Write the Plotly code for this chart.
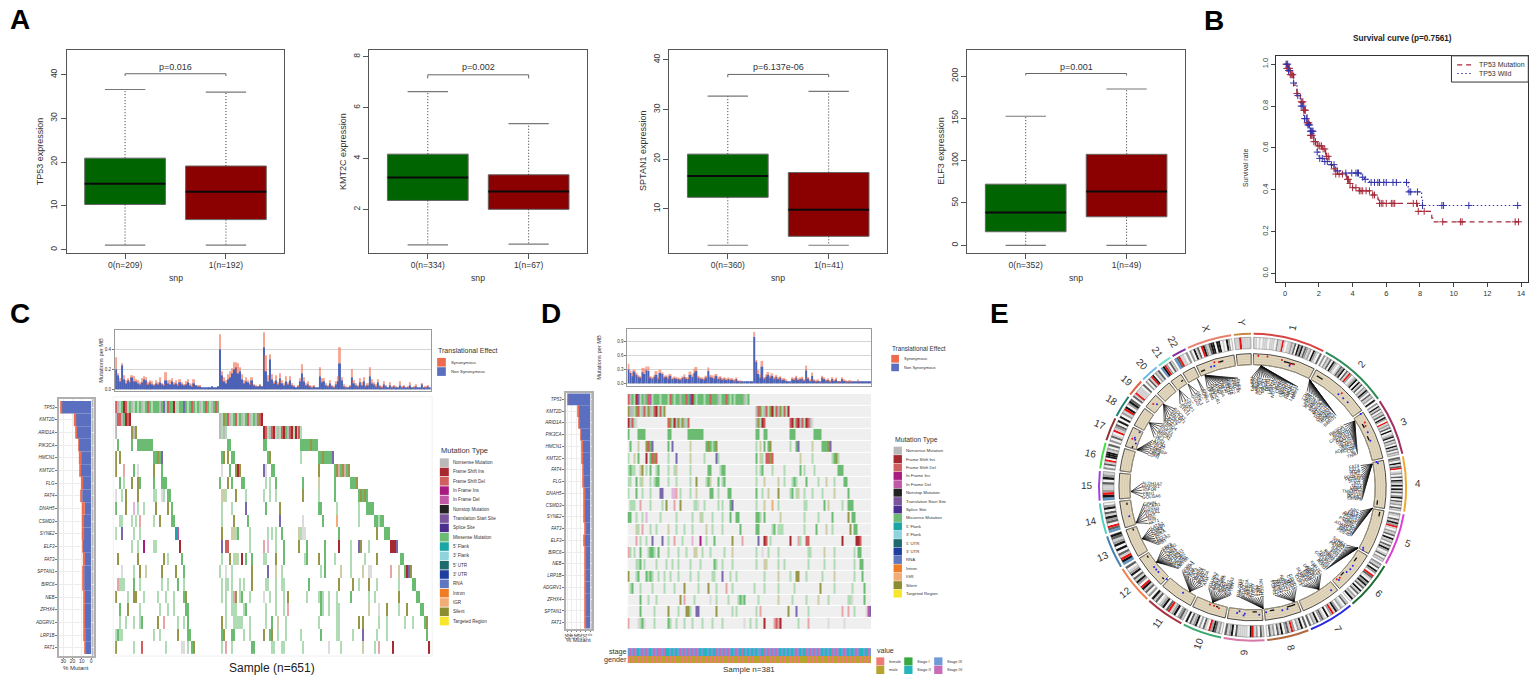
import math
import plotly.graph_objects as go

W, H = 1535, 681
FONT = "Liberation Sans"

# ---------- panel A
BOX_GENES = ["TP53", "KMT2C", "SPTAN1", "ELF3"]
BOX_LABELS = [["0(n=209)", "1(n=192)"], ["0(n=334)", "1(n=67)"], ["0(n=360)", "1(n=41)"], ["0(n=352)", "1(n=49)"]]
BOX_PVALS = ["p=0.016", "p=0.002", "p=6.137e-06", "p=0.001"]
BOX_LOW = [[1.0, 1.0], [0.6, 0.63], [2.65, 2.65], [0, 0]]
BOX_Q1 = [[10.3, 6.85], [2.35, 2.0], [12.3, 4.45], [16, 33.7]]
BOX_MED = [[15.05, 13.2], [3.25, 2.7], [16.6, 9.8], [38.8, 63.5]]
BOX_Q3 = [[20.9, 19.1], [4.17, 3.36], [21.0, 17.3], [72.2, 107.5]]
BOX_HIGH = [[36.6, 36.0], [6.63, 5.37], [32.7, 33.65], [152.5, 184.7]]
BOX_BRACKET = [[39.7, 40.2], [7.15, 7.29], [36.5, 37.05], [200.8, 203]]
BOX_TICKS = [[0, 10, 20, 30, 40], [2, 4, 6, 8], [10, 20, 30, 40], [0, 50, 100, 150, 200]]
BOX_RANGE = [[-0.69, 45.6], [0.3, 8.26], [1.18, 41.94], [-8.6, 230.6]]
BOX_LEFT = [64.7, 368, 668.6, 967.1]

# ---------- panel B
MUT_T = [0, 0.1, 0.3, 0.5, 0.7, 0.9, 1.1, 1.3, 1.5, 1.7, 1.9, 2.2, 2.4, 2.6, 2.8, 3.0, 3.65, 3.8, 4.0, 4.4, 5.2, 5.5,
         5.55, 7.85, 8.7, 8.8, 13.9]
MUT_S = [1, 0.98, 0.95, 0.90, 0.86, 0.82, 0.78, 0.72, 0.66, 0.63, 0.61, 0.595, 0.56, 0.52, 0.50, 0.475, 0.45, 0.43,
         0.41, 0.395, 0.375, 0.355, 0.335, 0.297, 0.265, 0.247, 0.247]
WILD_T = [0.05, 0.2, 0.5, 0.7, 0.9, 1.1, 1.3, 1.5, 1.7, 1.9, 2.0, 2.3, 2.7, 3.0, 3.3, 4.5, 4.7, 5.0, 7.3, 8.1, 8.15,
          13.85]
WILD_S = [1, 0.97, 0.91, 0.85, 0.80, 0.74, 0.71, 0.68, 0.62, 0.58, 0.55, 0.535, 0.52, 0.49, 0.48, 0.46, 0.45, 0.435,
          0.39, 0.35, 0.325, 0.325]
MUT_CENSOR = [0.05, 0.1, 0.15, 0.2, 0.25, 0.3, 0.35, 0.4, 0.45, 0.7, 0.95, 1.0, 1.05, 1.1, 1.15, 1.2, 1.3, 1.35, 1.4,
              1.5, 1.55, 1.6, 1.7, 1.8, 1.95, 2.05, 2.15, 2.25, 2.35, 2.45, 2.55, 2.9, 3.0, 3.2, 3.4, 3.7, 3.75, 3.85,
              4.0, 4.2, 4.4, 4.5, 4.6, 4.8, 5.0, 5.2, 5.3, 5.6, 5.7, 5.8, 6.0, 6.3, 6.4, 6.5, 7.6, 7.8, 7.9, 8.25,
              9.35, 10.4, 10.5, 13.65, 13.85]
WILD_CENSOR = [0.1, 0.15, 0.2, 0.5, 0.75, 0.95, 1.05, 1.15, 1.25, 1.35, 1.4, 1.45, 1.5, 1.55, 1.6, 1.65, 1.9, 2.05,
               2.2, 2.35, 2.5, 2.75, 2.9, 3.1, 3.6, 3.95, 4.2, 4.3, 4.35, 4.6, 4.75, 5.1, 5.3, 5.5, 5.6, 5.85, 6.0,
               6.4, 6.6, 7.2, 7.35, 7.45, 7.85, 8.15, 9.3, 9.4, 10.9, 13.8]

# ---------- panels C and D
GENES_C = ["TP53", "KMT2D", "ARID1A", "PIK3CA", "HMCN1", "KMT2C", "FLG", "FAT4", "DNAH5", "CSMD3", "SYNE2", "ELF3",
           "FAT3", "SPTAN1", "BIRC6", "NEB", "ZFHX4", "ADGRV1", "LRP1B", "FAT1"]
TOTAL_C = [32.5, 18.6, 16.4, 13.6, 13.2, 12.1, 11, 11, 10, 10, 10, 9.6, 8.9, 8.6, 8.6, 8.2, 8.2, 7.9, 7.5, 7.1]
NONSYN_C = [32, 17.1, 15.4, 13.2, 10.7, 11.1, 9.3, 9.6, 6.8, 7.9, 7.9, 8.9, 6.8, 7.5, 7.5, 6.8, 6.8, 6.8, 6.4, 6.4]
GENES_D = ["TP53", "KMT2D", "ARID1A", "PIK3CA", "HMCN1", "KMT2C", "FAT4", "FLG", "DNAH5", "CSMD3", "SYNE2", "FAT3",
           "ELF3", "BIRC6", "NEB", "LRP1B", "ADGRV1", "ZFHX4", "SPTAN1", "FAT1"]
TOTAL_D = [50, 27.5, 25, 21, 19.6, 18, 16.7, 16, 15, 15, 14, 13, 13, 12.3, 12.3, 11.6, 11.6, 11.6, 11.6, 11]
NONSYN_D = [49, 26, 24, 20.5, 16, 16, 15.2, 13.8, 11, 11.6, 11.6, 9.4, 11.6, 10.2, 10.2, 10.2, 9.4, 9.4, 10.2, 9.4]

# mutation counts per MB, hundredths, two pixel wide bins of samples
TMB_C_NON = [20, 14, 8, 24, 10, 6, 9, 7, 12, 8,
             8, 6, 5, 7, 10, 9, 5, 7, 5, 4,
             6, 5, 7, 5, 4, 9, 6, 5, 8, 5,
             6, 4, 7, 5, 4, 5, 7, 4, 3, 6,
             4, 3, 3, 2, 2, 2, 2, 2, 3, 2,
             2, 3, 40, 14, 8, 6, 10, 12, 16, 20,
             22, 16, 18, 10, 6, 8, 7, 5, 9, 4,
             3, 3, 4, 3, 42, 18, 8, 30, 10, 6,
             9, 5, 11, 6, 4, 8, 5, 9, 4, 3,
             2, 3, 8, 16, 8, 4, 5, 3, 2, 3,
             2, 2, 13, 7, 8, 4, 3, 6, 3, 2,
             5, 8, 26, 9, 3, 2, 2, 3, 12, 6,
             4, 3, 7, 4, 8, 3, 4, 13, 6, 5,
             3, 7, 3, 2, 5, 3, 2, 4, 2, 3,
             2, 2, 4, 2, 3, 2, 2, 4, 2, 2,
             3, 2, 2, 5, 2, 2, 3, 2]
TMB_C_SYN = [12, 2, 3, 2, 4, 3, 2, 2, 2, 5,
             2, 3, 2, 4, 3, 3, 2, 2, 3, 1,
             3, 2, 5, 1, 1, 8, 3, 4, 3, 2,
             3, 1, 3, 2, 1, 3, 3, 2, 2, 4,
             0, 1, 1, 0, 0, 0, 0, 0, 0, 0,
             0, 0, 15, 4, 4, 3, 5, 6, 5, 7,
             5, 10, 4, 5, 3, 4, 2, 2, 3, 1,
             1, 0, 1, 0, 15, 16, 6, 5, 5, 2,
             5, 2, 5, 3, 2, 5, 2, 4, 2, 1,
             0, 1, 3, 9, 4, 2, 3, 1, 1, 1,
             0, 0, 9, 4, 3, 2, 1, 3, 1, 1,
             3, 5, 16, 3, 2, 1, 0, 1, 8, 3,
             2, 1, 4, 3, 4, 1, 2, 9, 4, 2,
             2, 3, 1, 1, 3, 1, 0, 3, 1, 1,
             1, 0, 4, 1, 1, 0, 1, 3, 0, 1,
             2, 0, 0, 1, 0, 1, 1, 0]
TMB_D_NON = [30, 22, 15, 25, 18, 14, 12, 24, 20, 28,
             26, 12, 10, 14, 18, 10, 22, 20, 12, 14,
             10, 16, 9, 11, 10, 9, 8, 11, 14, 10,
             9, 18, 14, 22, 26, 12, 10, 9, 8, 12,
             26, 14, 12, 10, 16, 9, 12, 8, 10, 7,
             9, 7, 8, 6, 9, 5, 4, 3, 3, 3,
             3, 3, 3, 100, 46, 20, 12, 36, 10, 14,
             18, 12, 16, 10, 14, 9, 12, 7, 8, 5,
             3, 3, 9, 8, 12, 7, 9, 10, 6, 28,
             10, 5, 16, 6, 4, 5, 3, 12, 9, 6,
             7, 4, 9, 5, 8, 3, 3, 9, 5, 4,
             3, 4, 3, 2, 2, 3, 2, 2, 3, 2,
             2, 2]
TMB_D_SYN = [12, 5, 6, 4, 4, 3, 2, 9, 12, 8,
             10, 3, 3, 3, 8, 2, 7, 3, 2, 2,
             3, 4, 3, 2, 2, 2, 2, 3, 5, 3,
             4, 7, 5, 9, 9, 4, 3, 3, 2, 4,
             8, 4, 5, 3, 4, 5, 3, 3, 2, 3,
             3, 3, 2, 2, 3, 1, 1, 0, 0, 0,
             0, 0, 0, 10, 4, 8, 6, 12, 3, 5,
             6, 4, 5, 4, 4, 4, 3, 2, 3, 2,
             0, 0, 4, 3, 4, 2, 3, 4, 2, 10,
             3, 2, 7, 2, 1, 2, 1, 4, 3, 2,
             3, 1, 4, 2, 4, 1, 1, 3, 2, 1,
             1, 3, 1, 0, 0, 5, 0, 0, 0, 0,
             0, 0]

# start column : one code per column
ONCO_C = [
    "0:DNgGRDgGNgGgGNgGDGgGGGNGVgDGGRggGGVGgGDGgGNgGDGgNGDG",
    "0:NDDNGRDR 52:NgOGDNgGDgGNgGDNgGNODR",
    "0:N 8:ONO 52:NgNg 74:RDgNDRgNgDRGNDRgRNDg",
    "1:G 8:G 11:GGGGGGGG 56:GG 74:GG 93:GGGGGOGGG",
    "0:O 2:O 19:GGOGV 53:GO 56:O 58:GG 76:GO 93:g 102:GGOGGGGV",
    "0:O 4:d 9:G 11:n 19:O 23:G 53:n 57:G 60:ORO 74:V 75:n 78:GG 102:O 110:GOdGOdGO",
    "2:G 4:g 8:O 11:OG 19:G 23:GGG 52:G 56:O 58:G 63:GG 75:g 77:g 80:G 94:G 102:o 110:G 118:GGGO",
    "0:n 3:g 5:O 11:O 19:gg 23:n 24:g 26:GG 53:oog 60:O 65:g 74:g 77:g 80:g 94:O 102:g 110:G 122:GOGOG",
    "0:G 5:O 9:p 11:g 14:g 20:O 26:O 28:G 53:g 58:g 65:V 75:G 82:O 102:GG 111:g 122:g 126:GGGG",
    "2:gg 8:g 10:g 12:d 19:g 22:O 28:GG 53:g 59:O 66:G 82:V 94:n 104:G 111:i 122:g 130:GGgGG",
    "0:g 3:V 9:g 12:g 30:TP 53:O 58:oog 61:G 67:g 76:g 78:g 80:g 83:G 92:og 94:nn 112:G 131:O 135:GGG",
    "8:g 11:g 14:I 19:gg 32:R 53:V 55:DD 67:g 74:d 76:p 80:g 84:G 92:O 96:G 105:G 112:R 118:g 122:V 123:O 127:g 138:RRRV",
    "1:O 11:O 24:O 26:g 33:G 53:g 57:O 59:gog 63:R 65:G 68:G 74:gg 80:O 84:G 95:gG 102:O 105:G 110:g 118:g 125:g 131:O 143:GG",
    "3:n 9:g 12:O 15:o 23:O 30:O 34:G 52:g 55:n 58:g 68:O 76:V 80:o 83:g 103:g 105:G 113:o 118:g 124:o 127:nn 138:d 142:o 145:GRVO",
    "1:dg 3:gg 9:G 12:g 23:g 26:g 31:G 34:g 53:g 55:gg 58:g 62:g 64:g 68:O 75:gg 80:g 83:gg 97:G 112:O 119:O 122:g 127:O 131:g 142:g 149:GG",
    "0:O 6:g 9:OO 14:g 21:g 25:g 29:g 34:GO 53:g 55:g 58:g 59:dO 62:gG 67:g 74:n 77:g 80:g 84:g 86:O 96:g 102:gGg 107:g 111:g 118:G 127:g 130:g 142:O 151:GG",
    "2:G 6:O 12:g 22:g 26:g 29:g 35:GG 55:g 58:ggg 64:gG 75:g 80:g 84:g 86:d 103:Gg 107:g 111:gg 127:o 132:n 136:O 142:g 146:O 153:GG",
    "2:g 5:g 9:g 12:gG 21:O 24:d 31:g 34:g 36:G 53:O 55:g 59:ggggg 67:g 75:g 78:G 81:o 85:g 102:g 111:gg 122:O 124:O 132:g 136:g 145:g 149:g 155:GO",
    "0:gGgg 19:g 22:g 31:O 36:GG 53:GO 58:GG 64:g 67:g 74:O 77:GO 81:g 85:g 93:g 103:G 111:gg 119:g 124:V 131:g 136:g 156:G",
    "0:O 9:g 13:D 25:g 33:nn 36:g 38:GO 53:g 55:d 58:g 68:GG 78:gg 83:gg 94:g 107:n 113:g 124:o 130:g 132:d 139:R 157:R",
]
ONCO_D = [
    "0:DNGgRVgGNGDPgGGGgGGGgDGgGGNGGDGVRGgGGGgGGDGGGNgGGDGgGgGGGGNgG",
    "0:ONNgODgNDgONgDRgDgO 64:NDOgNDgORgDNOgDgR",
    "0:RNDgn 20:DOgRNOgONgD 64:NOgRD 81:DRgDRNDgRDNn",
    "0:G 5:GGGG 20:GG 30:GGGGGGGG 64:GG 68:GG 81:GGG 93:GGGG",
    "1:G 5:o 9:ODGV 20:G 22:V 31:o 39:GOGgGO 64:g 66:o 68:G 70:GO 81:g 84:GV 92:o 97:GGGOV",
    "0:g 3:o 5:G 9:R 11:G 12:DOD 20:g 24:V 31:o 38:g 44:V 45:g 64:G 66:o 67:g 69:DDOD 86:o 92:g 102:gGOg",
    "0:gGgg 6:oO 9:g 11:G 14:gG 20:g 23:g 24:o 31:g 40:GG 46:g 47:GG 64:g 66:g 67:G 72:g 78:g 86:G 88:g 93:g 105:GGG",
    "0:gg 4:G 6:g 7:o 11:g 13:g 14:GG 20:g 24:g 31:g 34:O 39:gGo 45:G 47:g 48:G 64:g 68:o 75:o 78:g 82:gGg 89:G 95:g 99:o 103:g 108:GG",
    "0:g 4:G 7:g 11:g 16:VV 22:ppd 26:g 31:g 34:o 41:GG 45:g 50:GG 64:G 67:g 70:o 75:O 81:gG 84:go 88:g 92:g 97:g 103:o 110:G",
    "1:ggg 6:d 11:g 17:g 19:O 23:d 26:O 33:gg 35:n 38:g 45:g 47:g 51:GV 64:g 68:o 72:i 75:g 88:gg 98:G 100:o 107:g 110:GGG",
    "0:GG 4:g 7:g 9:p 16:g 24:g 32:g 36:o 37:g 42:g 47:g 51:G 54:GG 64:GGg 68:G 76:o 88:g 95:g 102:G 110:O 112:GG",
    "4:o 5:g 7:d 11:g 14:g 20:o 24:g 28:g 32:g 39:o 42:g 47:g 56:G 64:GG 72:gG 75:ggg 88:g 94:G 99:o 102:g 111:O 113:GG",
    "4:d 6:g 9:g 12:V 17:V 20:g 23:d 27:g 32:p 36:I 39:g 43:G 52:O 57:d 65:V 68:RD 71:g 81:R 85:d 86:g 89:DD 107:R 114:RRD",
    "0:dg 3:g 6:G 10:gGGg 15:G 20:g 25:g 29:g 33:oo 37:g 41:g 48:g 52:o 64:g 67:n 70:g 75:g 90:gg 98:o 103:g 113:g 115:GG",
    "4:ggG 8:g 14:g 19:g 22:g 25:g 31:g 36:g 43:Gg 47:g 52:g 64:g 68:oo 75:g 78:g 90:g 98:g 103:g 113:g 116:GG",
    "0:O 4:gG 9:GgGg 15:g 18:g 21:g 25:g 31:g 35:g 42:gg 47:V 51:g 54:g 68:g 75:o 81:g 84:OO 89:g 97:g 103:o 113:g 117:G",
    "1:gG 6:g 12:g 18:g 23:g 28:O 35:g 40:O 44:g 49:d 52:g 63:g 68:g 75:g 83:g 96:O 103:g 112:g 118:G",
    "6:G 10:g 14:g 26:O 28:d 33:g 41:n 44:g 50:g 55:gGgG 65:g 75:o 82:g 89:g 95:o 100:g 110:ggn 118:G",
    "6:G 13:g 20:O 25:g 29:OO 31:g 34:VV 44:O 52:g 54:g 64:g 66:d 80:O 84:V 90:g 107:d 110:d 113:g 119:nPVD",
    "0:d 5:ngG 8:n 13:g 20:Gg 24:g 28:g 32:g 37:g 42:g 47:g 58:n 61:g 64:g 68:R 73:dDd 76:R 85:g 90:d 100:n 108:n",
]
STAGE_D = ("cdcdcbcdcdcbcdcddcdbbcbcbcdcdcdcdcdcbcbbcbcbdcdcdcdcbcdcbdbcbcbcbccbdcdcdcdcb"
           "cbcbcbcdcbcbdcdcdcdcbcbcbdcdcbcdcbcbcdcbbcbdcb")
GENDER_D = ("fmfmmfmfmfmmfmfmfmmfmfmfmmmfmfmfmmfmfmmfmfmfmfmfmmfmfmmfmfmmfmfmmmfmfmmfmfmmf"
            "mfmmfmfmfmmmmfmfmfmmfmmfmfmmfmfmfmfmfmmfmfmfmf")

CODE_COLORS = {".": "#ffffff", "N": "#b9b9b9", "n": "#dcdcdc", "R": "#a8282f", "D": "#d0605f", "d": "#e6a6a8",
               "I": "#a81b80", "P": "#c058a5", "p": "#e3b5d8", "V": "#7a68ae", "G": "#6bbb73", "g": "#b0dcb5",
               "O": "#97974a", "o": "#cdcda6", "T": "#1ba6a6", "i": "#f2ad76"}
CODES = list(CODE_COLORS)

MUT_TYPES = ["Nonsense Mutation", "Frame Shift Ins", "Frame Shift Del", "In Frame Ins", "In Frame Del",
             "Nonstop Mutation", "Translation Start Site", "Splice Site", "Missense Mutation", "5' Flank", "3' Flank",
             "5' UTR", "3' UTR", "RNA", "Intron", "IGR", "Silent", "Targeted Region"]
MUT_COLORS = ["#b9b9b9", "#a8282f", "#d0605f", "#a81b80", "#c058a5", "#222222", "#7b559c", "#4a2f8f", "#6bbb75",
              "#1ba6a6", "#8fd3dc", "#1f6a6c", "#1f3f9f", "#5f76c0", "#f07c25", "#f2ad76", "#8c8c30", "#f7e62b"]
EFFECTS = ["Synonymous", "Non Synonymous"]
SYN_COLOR, NONSYN_COLOR = "#ee6c4d", "#5a6fbf"

# ---------- panel E
CHROMS = ["1", "2", "3", "4", "5", "6", "7", "8", "9", "10", "11", "12", "13", "14", "15", "16", "17", "18", "19", "20",
          "21", "22", "X", "Y"]
CHROM_MB = [249, 243, 198, 191, 181, 171, 159, 146, 141, 136, 135, 134, 115, 107, 102, 90, 81, 78, 59, 63, 48, 51, 155,
            59]
CHROM_COLORS = ["#d64541", "#2e8b57", "#a03060", "#f0a830", "#e040d0", "#1e6b2e", "#2a2ae0", "#b06a40", "#d878a8",
                "#3caa70", "#a83040", "#f08050", "#4a80b0", "#50d0c0", "#a040e0", "#40e040", "#903030", "#208070",
                "#e06040", "#70b8e8", "#70e0c8", "#8030a0", "#e88070", "#c88840"]
BANDS = [
    "1101011101110211R1011213042413212042103",
    "20213042101324031R20124041302142031204",
    "2041302130420R121304012403120413021",
    "320413R012030421404130240312031",
    "2103142R10213041203142013021",
    "2130420R31042413041302140",
    "130120241R2040132041203",
    "3041202R132041302130",
    "13021R4011111304213",
    "021342R013020421304",
    "1320421R304210314",
    "20314R02413042103",
    "B4R1304042134",
    "B3R0324130420",
    "B4R21130421",
    "2031R04441203",
    "20310R12304",
    "4021R40243",
    "31R111103",
    "2031R40213",
    "B4R2031",
    "B3R1102",
    "204130R421344044010420",
    "11R1111",
]
BAND_GREYS = {"0": "#f4f4f4", "1": "#cfcfcf", "2": "#9e9e9e", "3": "#606060", "4": "#161616", "R": "#ee1111",
              "B": "#5b9bd5"}

RING_BLUE_T = [16.9, 42.7, 45.5, 48.2, 55.9, 64.5, 68.4, 78.5, 79.2, 118.7, 119.6, 128, 130, 132, 137, 142.7, 164,
               166.4, 173.8, 177, 183.5, 184, 187, 186, 213.4, 223, 228, 229.5, 231, 256.8, 292, 292.8, 290.5, 296,
               311, 341, 342.5]
RING_BLUE_R = [127.5, 127, 127.5, 128, 131, 128, 127, 127, 128, 126.5, 127.5, 127.7, 128, 127, 127, 130, 127, 127,
               126, 128, 127, 129, 127, 125, 126.6, 126, 127, 127, 127, 127, 127, 128, 125, 126, 127, 127.8, 127.5]
RING_RED_T = [2.5, 6.5, 13, 17, 18.5, 43.5, 60, 61.5, 136, 137.5, 195.5, 198, 200, 292, 310, 343, 345]
RING_RED_R = [132, 132, 131, 129, 130, 130, 130, 129, 126, 125, 126, 125, 125, 130, 130, 131, 130]
RING_BLACK_T = [14, 15, 16, 17, 18, 19, None, 30, 31, 32, 33, None, 60, 61, 62, None, 66, 67, 68, None, 96, 97, 98,
                None, 101, 102, 103, None, 124, 125, 126, None, 133, 134, 135, None, 160, 161, 162, 163, 164, None,
                170, 171, 172, None, 178, 179, 180, None, 196, 197, None, 224, 225, None, 236, 237, None, 250, 251,
                None, 262, 263, None, 288, 289, None, 326, 327, None, 336, 337, 338, None, 345, 346, 347]
RING_BLACK_R = [130, 130, 130, 130, 130, 130, None, 129, 129, 129, 129, None, 127, 127, 127, None, 126, 126, 126, None,
                126, 126, 126, None, 130, 130, 130, None, 126, 126, 126, None, 125, 125, 125, None, 125, 125, 125, 125,
                125, None, 125, 125, 125, None, 125, 125, 125, None, 125, 125, None, 128, 128, None, 126, 126, None,
                127, 127, None, 127, 127, None, 127, 127, None, 128, 128, None, 127, 127, 127, None, 130, 130, 130]

# locus angle, first and last label angle, label names
# only ALDH1A2 can be read in the source; the other names are stand-ins for text too small to make out
GENE_BLOCKS = [
    (4, -1, 25, "NBPF1 SPEN ARID1A CSMD2 COL9A2 MACF1 FAAH DPYD LRRC7 USH2A NOTCH2 FLG CRNN HRNR OBSCN RYR2 ASTN1 HMCN1 CR1 LAMC1 NAV1"),
    (28, 29, 50, "TTN NEB LRP1B ALMS1 DYSF XIRP2 SCN1A BIRC6 MYO7B THSD7B DNAH7 COL4A3 TRIM43 ACADL CPS1 BARD1"),
    (57, 55, 73, "PIK3CA FOXP1 ROBO2 CACNA1D EPHA3 DNAH1 PCLO SETD2 BAP1 ADAMTS9 ACAD9 LTF SI TNIK"),
    (79, 78, 97, "FAT4 FAT1 KDR TLR2 PDGFRA PCDH10 SLIT2 KIT TET2 LRBA ANK2 TMEM155 NPY1R DCHS2 CENPE"),
    (100, 102, 117, "APC FAT2 DNAH5 PIK3R1 CDH10 PCDH15 NIPBL TRIO ADAMTS2 RASA1 MAP1B PDE4D"),
    (120, 121, 139, "SYNE1 UTRN LAMA2 PKHD1 BAI3 DST EYS RIMS1 TIAM2 HIVEP1 FILIP1 COL12A1 MYO6 ROS1"),
    (147, 141, 154, "KMT2C PCLO MET ABCB1 DNAH11 RELN EGFR GLI3 SEMA3C NOS3 CUX1"),
    (160, 156, 169, "CSMD1 CSMD3 MYC NRG1 RB1CC1 SNTG1 ZFHX4 TRPS1 PREX2 FGFR1"),
    (175, 174, 188, "NOTCH1 TLN1 ABL1 TSC1 GNAQ PTCH1 JAK2 CDKN2A ROR2 SPTAN1 RALGDS"),
    (199, 191, 204, "PTEN CTNNA3 FGFR2 RET ANK3 PCDH15 ZNF365 SUFU NRG3 TCF7L2 ADARB2"),
    (211, 206, 220, "ATM KMT2A MEN1 CCND1 BIRC3 DCHS1 FAT3 PGR WT1 NUMA1 SORL1"),
    (232, 222, 236, "KMT2D ARID2 KRAS NCOR2 CDK4 PTPN11 BTG1 SOX5 LRP1 ALDH2 POLE TBX3"),
    (245, 238, 249, "RB1 BRCA2 FLT3 KL NBEA GPC5 CDK8 FOXO1 LATS2"),
    (253, 250, 262, "AKT1 NIN MAX FOXA1 NRXN3 DICER1 GPHN"),
    (268, 264, 273, "GOLGA6 FBN1 IGF1R MAP2K1 ALDH1A2"),
    (288, 287, 296, "CDH1 CBFB TSC2 CREBBP CYLD PALB2 AXIN1"),
    (302, 296, 306, "TP53 NF1 BRCA1 ERBB2 RNF43 SPOP"),
    (313, 306, 316, "SMAD4 DCC BCL2 CDH2 MALT1 SETBP1 ROCK1"),
    (323, 318, 325, "STK11 JAK3 KEAP1 CIC"),
    (328, 326, 331, "GNAS ASXL1 SRC"),
    (333, 332, 334, "RUNX1 ERG"),
    (337, 335, 353, "EP300 NF2 SMARCB1 BCR ATRX KDM6A AR BCOR MED12 RBM10 STAG2 DMD USP9X PHF6"),
]


def px_x(x):
    return x / W


def px_y(y):
    return 1 - y / H


layout = dict(
    width=W, height=H, autosize=False, margin=dict(l=0, r=0, t=0, b=0), paper_bgcolor="white", plot_bgcolor="white",
    barmode="overlay", showlegend=False, font=dict(family=FONT, color="#333333"),
)
annotations = []
shapes = []
traces = []
axis_n = 0


def panel(l, t, r, b, xa, ya):
    global axis_n
    axis_n += 1
    n = axis_n
    layout[f"xaxis{n}"] = dict(domain=[px_x(l), px_x(r)], anchor=f"y{n}", **xa)
    layout[f"yaxis{n}"] = dict(domain=[px_y(b), px_y(t)], anchor=f"x{n}", **ya)
    return f"x{n}", f"y{n}"


def text(x, y, s, size, angle=0, anchor="center", color="#333333", bold=False):
    if bold:
        s = f"<b>{s}</b>"
    annotations.append(dict(xref="paper", yref="paper", x=px_x(x), y=px_y(y), text=s, showarrow=False, textangle=angle,
                            xanchor=anchor, yanchor="middle", font=dict(size=size, color=color, family=FONT),
                            borderpad=0))


def swatch(x0, y0, x1, y1, color):
    shapes.append(dict(type="rect", xref="paper", yref="paper", x0=px_x(x0), x1=px_x(x1), y0=px_y(y0), y1=px_y(y1),
                       fillcolor=color, line=dict(width=0)))


def hbox(x0, y0, x1, y1, color):
    shapes.append(dict(type="rect", xref="paper", yref="paper", x0=px_x(x0), x1=px_x(x1), y0=px_y(y0), y1=px_y(y1),
                       fillcolor=color, line=dict(width=0), layer="below"))


for name, letter_x, letter_y in [("A", 18, 19), ("B", 1214.7, 19.3), ("C", 18.5, 313), ("D", 550, 313), ("E", 999, 313)]:
    text(letter_x, letter_y, name, 28, bold=True, color="#000000")

# ---------- A: four box plots, drawn so the whiskers can be dotted
GREEN, RED = "#006400", "#8b0000"
for i, gene in enumerate(BOX_GENES):
    left = BOX_LEFT[i]
    line = dict(showline=True, mirror=True, linecolor="#555555", linewidth=1, showgrid=False, zeroline=False,
                ticks="outside", ticklen=5, tickcolor="#555555")
    xa, ya = panel(left, 49.3, left + 218.3, 252.3,
                   dict(range=[0.42, 2.58], tickvals=[1, 2], ticktext=BOX_LABELS[i], tickfont=dict(size=8.5),
                        ticklabelstandoff=-1, **line),
                   dict(range=BOX_RANGE[i], tickvals=BOX_TICKS[i], tickangle=-90, tickfont=dict(size=8.5), **line))
    q1, med, q3, low, high = BOX_Q1[i], BOX_MED[i], BOX_Q3[i], BOX_LOW[i], BOX_HIGH[i]
    whisk_x, whisk_y, cap_x, cap_y, med_x, med_y = [], [], [], [], [], []
    for j, pos in enumerate([1, 2]):
        whisk_x += [pos, pos, None, pos, pos, None]
        whisk_y += [q3[j], high[j], None, q1[j], low[j], None]
        cap_x += [pos - 0.2, pos + 0.2, None, pos - 0.2, pos + 0.2, None]
        cap_y += [high[j], high[j], None, low[j], low[j], None]
        med_x += [pos - 0.4, pos + 0.4, None]
        med_y += [med[j], med[j], None]
    traces.append(go.Scatter(x=whisk_x, y=whisk_y, mode="lines", line=dict(color="#333333", width=1, dash="1px,2px"),
                             xaxis=xa, yaxis=ya))
    traces.append(go.Scatter(x=cap_x, y=cap_y, mode="lines", line=dict(color="#777777", width=1.2), xaxis=xa, yaxis=ya))
    traces.append(go.Bar(x=[1, 2], y=[q3[0] - q1[0], q3[1] - q1[1]], base=q1, width=0.8,
                         marker=dict(color=[GREEN, RED], line=dict(color="#666666", width=1)), xaxis=xa, yaxis=ya))
    traces.append(go.Scatter(x=med_x, y=med_y, mode="lines", line=dict(color="#0a0a0a", width=2), xaxis=xa, yaxis=ya))
    a, b = BOX_BRACKET[i]
    traces.append(go.Scatter(x=[1, 1, 2, 2], y=[a, b, b, a], mode="lines", line=dict(color="#666666", width=1),
                             xaxis=xa, yaxis=ya))
    text(left + 109.2, 66.5, BOX_PVALS[i], 9)
    text(left + 109.2, 278, "snp", 8.7)
    text(left - 26.5, 150.5, f"{gene} expression", 9, angle=-90)


# ---------- B: survival curves
def surv_at(times, surv, t):
    s = surv[0]
    for tt, ss in zip(times, surv):
        if tt <= t:
            s = ss
    return s


b_line = dict(showline=True, mirror=True, linecolor="#333333", linewidth=1, showgrid=False, zeroline=False,
              ticks="outside", ticklen=4, tickcolor="#444444", tickfont=dict(size=7.5))
xa, ya = panel(1276.3, 55, 1529.3, 281.7,
               dict(range=[-0.557, 14.43], tickvals=list(range(0, 15, 2)), **b_line),
               dict(range=[-0.04, 1.04], tickvals=[0, 0.2, 0.4, 0.6, 0.8, 1.0], ticktext=["0.0", "0.2", "0.4", "0.6", "0.8", "1.0"],
                    tickangle=-90, **b_line))
MUT_RED, WILD_BLUE = "#a52a3a", "#3333aa"
traces.append(go.Scatter(x=MUT_T, y=MUT_S, mode="lines", name="TP53 Mutation", xaxis=xa, yaxis=ya,
                         line=dict(color=MUT_RED, width=1.2, shape="hv", dash="5px,4px")))
traces.append(go.Scatter(x=WILD_T, y=WILD_S, mode="lines", name="TP53 Wild", xaxis=xa, yaxis=ya,
                         line=dict(color=WILD_BLUE, width=1.2, shape="hv", dash="1.5px,2.5px")))
traces.append(go.Scatter(x=MUT_CENSOR, y=[surv_at(MUT_T, MUT_S, t) for t in MUT_CENSOR], mode="markers", xaxis=xa,
                         yaxis=ya, marker=dict(symbol="cross-thin", size=5, line=dict(width=1, color=MUT_RED))))
traces.append(go.Scatter(x=WILD_CENSOR, y=[surv_at(WILD_T, WILD_S, t) for t in WILD_CENSOR], mode="markers", xaxis=xa,
                         yaxis=ya, marker=dict(symbol="cross-thin", size=5, line=dict(width=1, color=WILD_BLUE))))
text(1403, 37.7, "Survival curve (p=0.7561)", 8.2, bold=True, color="#222222")
text(1246, 168, "Survival rate", 6.9, angle=-90)
# key for the two curves
shapes.append(dict(type="rect", xref="paper", yref="paper", x0=px_x(1452.3), x1=px_x(1529.3), y0=px_y(55), y1=px_y(81.3),
                   fillcolor="white", line=dict(color="#333333", width=1)))
shapes.append(dict(type="line", xref="paper", yref="paper", x0=px_x(1458), x1=px_x(1472), y0=px_y(64), y1=px_y(64),
                   line=dict(color=MUT_RED, width=1.2, dash="5px,4px")))
shapes.append(dict(type="line", xref="paper", yref="paper", x0=px_x(1458), x1=px_x(1472), y0=px_y(72.7), y1=px_y(72.7),
                   line=dict(color=WILD_BLUE, width=1.2, dash="1.5px,2.5px")))
text(1478.7, 64, "TP53 Mutation", 7, anchor="left")
text(1478.7, 72.7, "TP53 Wild", 7, anchor="left")


# ---------- C and D: oncoplots
def parse_row(spec, n):
    row = [0] * n
    for tok in spec.split():
        start, codes = tok.split(":")
        for k, c in enumerate(codes):
            if int(start) + k < n:
                row[int(start) + k] = CODES.index(c)
    return row


def step_scale(colors):
    n = len(colors)
    scale = []
    for k, c in enumerate(colors):
        scale += [[k / n, c], [(k + 1) / n, c]]
    return scale


def oncoplot(genes, total, nonsyn, tmb_non, tmb_syn, onco, n_cols, blank, ygap,
             top, left_bar, matrix, tmb_ticks, tmb_range, pct_ticks, pct_range, delta):
    # top bars
    frame = dict(showline=True, mirror=True, linecolor="#9a9a9a", linewidth=1.2, zeroline=False)
    xa, ya = panel(*top,
                   dict(range=[-0.5, n_cols - 0.5], showticklabels=False, showgrid=False, ticks="", **frame),
                   dict(range=tmb_range, tickvals=tmb_ticks, ticktext=[f"{v:.1f}" for v in tmb_ticks], showgrid=True,
                        gridcolor="#d5d5d5", ticks="outside", ticklen=2, tickcolor="#777777",
                        tickfont=dict(size=4.5), **frame))
    non = [v / 100 for v in tmb_non]
    syn = [v / 100 for v in tmb_syn]
    cols = list(range(len(non)))
    traces.append(go.Bar(x=cols, y=non, width=1, marker=dict(color="#4c63b6", line=dict(width=0)), xaxis=xa, yaxis=ya))
    traces.append(go.Bar(x=cols, y=syn, base=non, width=1, marker=dict(color=SYN_COLOR, line=dict(width=0)), opacity=0.6,
                         xaxis=xa, yaxis=ya))
    # left bars
    lb = dict(showline=True, mirror=True, linecolor="#b0b0b0", linewidth=1.5, zeroline=False, showgrid=True,
              gridcolor="#ededed", tickcolor="#777777")
    xa, ya = panel(*left_bar,
                   dict(range=pct_range, tickvals=pct_ticks, tickfont=dict(size=5), ticks="outside", ticklen=1,
                        ticklabelstandoff=-2, **lb),
                   dict(range=[len(genes) - 0.5 + delta, -0.5 - delta], tickvals=genes,
                        ticktext=[f"<i>{g}</i>" for g in genes], tickfont=dict(size=4.5), ticks="outside", ticklen=2,
                        type="category", **lb))
    extra = [t - v for t, v in zip(total, nonsyn)]
    traces.append(go.Bar(y=genes, x=nonsyn, orientation="h", width=1, marker=dict(color=NONSYN_COLOR, line=dict(width=0)),
                         xaxis=xa, yaxis=ya))
    traces.append(go.Bar(y=genes, x=extra, base=nonsyn, orientation="h", width=1,
                         marker=dict(color=SYN_COLOR, line=dict(width=0)), xaxis=xa, yaxis=ya))
    # matrix
    xa, ya = panel(*matrix,
                   dict(range=[-0.5, n_cols - 0.5], showticklabels=False, showgrid=False, ticks="", zeroline=False),
                   dict(range=[len(genes) - 0.5, -0.5], showticklabels=False, showgrid=False, ticks="", zeroline=False,
                        type="category"))
    z = [parse_row(spec, n_cols) for spec in onco]
    colors = [blank if c == "." else CODE_COLORS[c] for c in CODES]
    traces.append(go.Heatmap(z=z, y=genes, x=list(range(n_cols)), colorscale=step_scale(colors), zmin=-0.5,
                             zmax=len(CODES) - 0.5, showscale=False, ygap=ygap, xaxis=xa, yaxis=ya))


oncoplot(GENES_C, TOTAL_C, NONSYN_C, TMB_C_NON, TMB_C_SYN, ONCO_C, 158, "#ffffff", 0,
         (113.3, 330, 429.7, 390.7), (57.3, 399.3, 91.7, 656.7), (113.3, 401, 429.3, 655),
         [0, 0.2, 0.4], [-0.014, 0.593], [0, 10, 20, 30], [34.3, -2.57], 0.14)
oncoplot(GENES_D, TOTAL_D, NONSYN_D, TMB_D_NON, TMB_D_SYN, ONCO_D, 122, "#efefef", 1,
         (626.7, 329.3, 870.7, 386), (565.3, 393, 591, 630), (626.7, 394, 870.7, 630.7),
         [0, 0.3, 0.6, 0.9], [-0.057, 1.157], [0, 10, 20, 30, 40, 50], [52.2, -3.7], 0.05)

hbox(89.3, 399.3, 91.7, 656.7, "#b8b8bc")
hbox(589.3, 393, 591, 630, "#b8b8bc")
shapes.append(dict(type="rect", xref="paper", yref="paper", x0=px_x(111.5), x1=px_x(431), y0=px_y(397), y1=px_y(657),
                   line=dict(color="#f1f1f1", width=1), layer="below"))

text(99, 360, "Mutations per MB", 5.7, angle=-90)
text(598, 357, "Mutations per MB", 5.7, angle=-90)
text(74.5, 669, "% Mutant", 6)
text(578, 641, "% Mutant", 5.8)
text(271, 669, "Sample (n=651)", 12, color="#222222")

# clinical tracks under D
STAGE_COLORS = {"a": "#38a83f", "b": "#24b6bd", "c": "#6f9bd8", "d": "#c76db5", "f": "#ef7a73", "m": "#b5a52a"}
TRACK_CODES = list(STAGE_COLORS)
xa, ya = panel(626.7, 649, 870.7, 664.3,
               dict(range=[-0.5, 121.5], showticklabels=False, showgrid=False, ticks="", zeroline=False),
               dict(range=[1.5, -0.5], tickvals=[0, 1], ticktext=["stage", "gender"], tickfont=dict(size=7.2), ticks="",
                    ticklen=0, showgrid=False, zeroline=False))
traces.append(go.Heatmap(z=[[TRACK_CODES.index(c) for c in STAGE_D[:122]], [TRACK_CODES.index(c) for c in GENDER_D[:122]]],
                         x=list(range(122)), y=[0, 1], colorscale=step_scale(list(STAGE_COLORS.values())), zmin=-0.5,
                         zmax=5.5, showscale=False, xaxis=xa, yaxis=ya))
text(748, 670.7, "Sample n=381", 8)

# legends for C and D
text(435.7, 350.7, "Translational Effect", 7, anchor="left")
swatch(436, 358, 444.7, 366.7, SYN_COLOR)
swatch(436, 367.3, 444.7, 376, NONSYN_COLOR)
text(449, 362.5, EFFECTS[0], 4.3, anchor="left")
text(449, 371.7, EFFECTS[1], 4.3, anchor="left")
text(438.7, 451.3, "Mutation Type", 7.5, anchor="left")
for k, (label, color) in enumerate(zip(MUT_TYPES, MUT_COLORS)):
    swatch(438.7, 458.7 + 9.35 * k, 447.7, 467.3 + 9.35 * k, color)
    text(451.3, 463 + 9.35 * k, label, 4.6, anchor="left")

text(890.7, 348.3, "Translational Effect", 6.3, anchor="left")
swatch(891, 355, 898.7, 362.7, SYN_COLOR)
swatch(891, 363.7, 898.7, 371.3, NONSYN_COLOR)
text(902.3, 359, EFFECTS[0], 4, anchor="left")
text(902.3, 367.5, EFFECTS[1], 4, anchor="left")
text(893.3, 440.7, "Mutation Type", 6.8, anchor="left")
for k, (label, color) in enumerate(zip(MUT_TYPES, MUT_COLORS)):
    swatch(893.3, 447 + 8.43 * k, 901.7, 455 + 8.43 * k, color)
    text(905, 451 + 8.43 * k, label, 4.3, anchor="left")

text(875.7, 651.7, "value", 7, anchor="left")
swatch(876, 658.3, 884, 666.3, STAGE_COLORS["f"])
swatch(876, 666.7, 884, 675, STAGE_COLORS["m"])
text(887.3, 662.3, "female", 4, anchor="left")
text(887.3, 670.8, "male", 4, anchor="left")
swatch(904, 658.3, 912.3, 666.3, STAGE_COLORS["a"])
swatch(904, 666.7, 912.3, 675, STAGE_COLORS["b"])
text(915.7, 662.3, "Stage I", 4, anchor="left")
text(915.7, 670.8, "Stage II", 4, anchor="left")
swatch(934, 658.3, 942.3, 666.3, STAGE_COLORS["c"])
swatch(934, 666.7, 942.3, 675, STAGE_COLORS["d"])
text(945.7, 662.3, "Stage III", 4, anchor="left")
text(945.7, 670.8, "Stage IV", 4, anchor="left")

# ---------- E: circular genome plot
CX, CY, R_MAX = 1253, 487.7, 158
GAP = 1.0
scale = (360 - GAP * len(CHROM_MB)) / sum(CHROM_MB)
starts, widths = [], []
pos = 0.4
for mb in CHROM_MB:
    starts.append(pos)
    widths.append(mb * scale)
    pos += mb * scale + GAP
mids = [s + w / 2 for s, w in zip(starts, widths)]

band_t, band_w, band_c = [], [], []
for s, w, bands in zip(starts, widths, BANDS):
    step = w / len(bands)
    for k, c in enumerate(bands):
        band_t.append(s + step * (k + 0.5))
        band_w.append(step)
        band_c.append(BAND_GREYS[c])

traces.append(go.Barpolar(theta=mids, width=widths, base=153, r=[2] * 24, marker=dict(color=CHROM_COLORS, line=dict(width=0))))
traces.append(go.Barpolar(theta=band_t, width=band_w, base=139, r=[11.5] * len(band_t),
                          marker=dict(color=band_c, line=dict(width=0))))
traces.append(go.Barpolar(theta=mids, width=widths, base=139, r=[11.5] * 24,
                          marker=dict(color="rgba(0,0,0,0)", line=dict(color="#555555", width=0.4))))
traces.append(go.Barpolar(theta=mids, width=widths, base=123, r=[11] * 24,
                          marker=dict(color="#e2d6bd", line=dict(color="#222222", width=0.8))))
for ring_r in [126, 128.5, 131]:
    traces.append(go.Barpolar(theta=mids, width=widths, base=123, r=[ring_r - 123] * 24,
                              marker=dict(color="rgba(0,0,0,0)", line=dict(color="#b9ac90", width=0.3))))
traces.append(go.Scatterpolar(theta=RING_BLACK_T, r=RING_BLACK_R, mode="lines", line=dict(color="#111111", width=1.3),
                              connectgaps=False))
traces.append(go.Scatterpolar(theta=RING_RED_T, r=RING_RED_R, mode="markers",
                              marker=dict(color="#ee1111", size=2, line=dict(width=0))))
traces.append(go.Scatterpolar(theta=RING_BLUE_T, r=RING_BLUE_R, mode="markers",
                              marker=dict(color="#2222ee", size=2, line=dict(width=0))))

fan_t, fan_r = [], []
for locus, first, last, names in GENE_BLOCKS:
    names = names.split()
    for k, gene in enumerate(names):
        th = first + (last - first) * (k + 0.5) / len(names)
        fan_t += [locus, th, None]
        fan_r += [122, 110.5, None]
        rad = math.radians(th)
        size = 4.5
        mid_r = 109 - 0.55 * size * len(gene) / 2
        gx = CX + mid_r * math.sin(rad)
        gy = CY - mid_r * math.cos(rad)
        norm = th % 360
        ang = norm - 90 if norm < 180 else norm - 270
        text(gx, gy, gene, size, angle=ang, color="#1a1a1a")
traces.append(go.Scatterpolar(theta=fan_t, r=fan_r, mode="lines", line=dict(color="#111111", width=0.7)))

for name, th in zip(CHROMS, mids):
    rad = math.radians(th)
    ang = th - 90 if th < 180 else th - 270
    text(CX + 165.5 * math.sin(rad), CY - 165.5 * math.cos(rad), name, 10, angle=ang, color="#333333")

layout["polar"] = dict(
    domain=dict(x=[px_x(CX - R_MAX), px_x(CX + R_MAX)], y=[px_y(CY + R_MAX), px_y(CY - R_MAX)]),
    radialaxis=dict(visible=False, range=[0, R_MAX]),
    angularaxis=dict(visible=False, rotation=90, direction="clockwise"),
    bgcolor="rgba(0,0,0,0)", barmode="overlay", bargap=0,
)
layout["annotations"] = annotations
layout["shapes"] = shapes

fig = go.Figure(data=traces, layout=layout)
fig.write_html("out.html", config=dict(displayModeBar=False),
               post_script="document.body.style.margin='0';document.body.style.overflow='hidden';")
